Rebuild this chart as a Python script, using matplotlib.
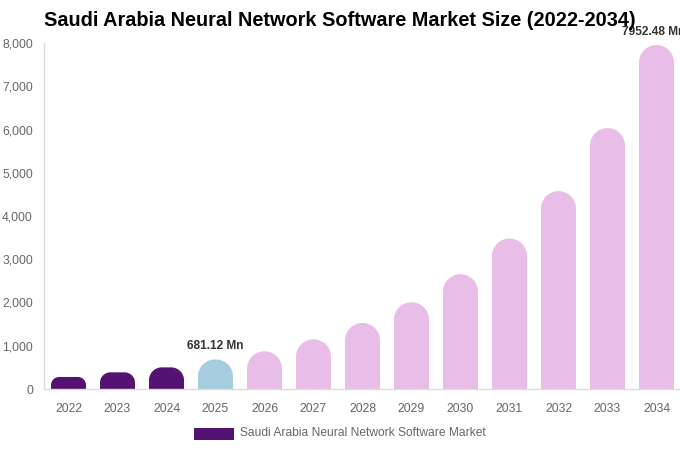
import matplotlib.pyplot as plt
from matplotlib.path import Path
from matplotlib.patches import PathPatch, Rectangle
from matplotlib import rcParams

rcParams['font.family'] = ['Liberation Sans', 'DejaVu Sans']

# Data
years = ["2022", "2023", "2024", "2025", "2026", "2027", "2028",
         "2029", "2030", "2031", "2032", "2033", "2034"]
values = [278, 385, 500, 681.12, 872, 1150, 1527,
          2006, 2654, 3480, 4575, 6033, 7952.48]
labels = {3: "681.12 Mn", 12: "7952.48 Mn"}

dark = "#541272"
blue = "#a6cce0"
pink = "#e8bde8"
colors = [dark, dark, dark, blue] + [pink] * 9

W, H = 680, 450
fig = plt.figure(figsize=(W / 100, H / 100), dpi=100)
ax = fig.add_axes([44 / W, 61 / H, 637 / W, 346 / H])
ax.set_xlim(-0.5, len(years) - 0.5)
ax.set_ylim(0, 8000)

# pixels per data unit, for round tops
px_x = (637 / len(years))
px_y = 346 / 8000
bar_px = 35
k = 0.5523


def round_bar(xc, h, color):
    hw = bar_px / px_x / 2
    r_px = min(bar_px / 2, h * px_y / 2 + 2)
    rx = r_px / px_x
    ry = r_px / px_y
    x0, x1 = xc - hw, xc + hw
    verts = [(x0, 0), (x0, h - ry),
             (x0, h - ry + k * ry), (x0 + rx - k * rx, h), (x0 + rx, h),
             (x1 - rx, h),
             (x1 - rx + k * rx, h), (x1, h - ry + k * ry), (x1, h - ry),
             (x1, 0), (x0, 0)]
    codes = [Path.MOVETO, Path.LINETO,
             Path.CURVE4, Path.CURVE4, Path.CURVE4,
             Path.LINETO,
             Path.CURVE4, Path.CURVE4, Path.CURVE4,
             Path.LINETO, Path.CLOSEPOLY]
    ax.add_patch(PathPatch(Path(verts, codes), facecolor=color,
                           edgecolor="none", zorder=2))


for i, v in enumerate(values):
    round_bar(i, v, colors[i])

for i, txt in labels.items():
    ax.text(i - 0.05 * (i == 12), values[i] + 170, txt, ha="center", va="bottom",
            fontsize=8.6, fontweight="bold", color="#333333", clip_on=False)

ax.set_xticks(range(len(years)))
ax.set_xticklabels(years)
ax.set_yticks(range(0, 8001, 1000))
ax.set_yticklabels([f"{v:,}" for v in range(0, 8001, 1000)])
ax.tick_params(axis="both", length=0, labelsize=8.7, labelcolor="#666666")
ax.tick_params(axis="x", pad=10)
ax.tick_params(axis="y", pad=8)

for s in ["top", "right"]:
    ax.spines[s].set_visible(False)
for s in ["left", "bottom"]:
    ax.spines[s].set_color("#dddddd")
    ax.spines[s].set_linewidth(1)

fig.text(340 / W, 1 - 21 / H, "Saudi Arabia Neural Network Software Market Size (2022-2034)",
         ha="center", va="center", fontsize=14.3, fontweight="bold", color="black")

# legend
fig.patches.append(Rectangle((194 / W, 1 - 440 / H), 40 / W, 12 / H,
                             transform=fig.transFigure, facecolor=dark,
                             edgecolor="none"))
fig.text(240 / W, 1 - 433 / H, "Saudi Arabia Neural Network Software Market",
         ha="left", va="center", fontsize=8.65, color="#666666")

fig.savefig("out.png", dpi=100)
